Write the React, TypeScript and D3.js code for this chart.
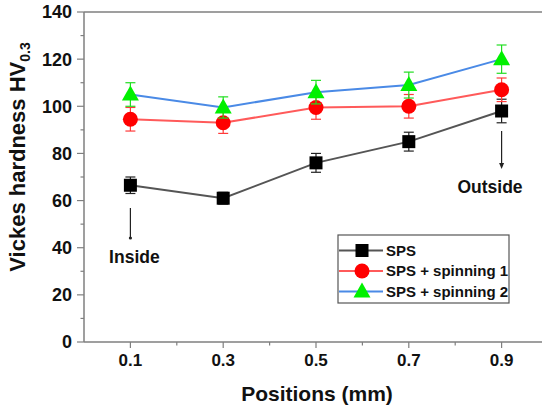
import React from 'react';
import * as d3 from 'd3';

const positions = [0.1, 0.3, 0.5, 0.7, 0.9];
const sps = [66.5, 61, 76, 85, 98];
const spsErr = [3.5, 2.5, 4, 4, 5];
const spin1 = [94.5, 93, 99.5, 100, 107];
const spin1Err = [5, 4.5, 5, 5, 5];
const spin2 = [105, 99.5, 106, 109, 120];
const spin2Err = [5, 4.5, 5, 5.5, 6];
const yTicks = [0, 20, 40, 60, 80, 100, 120, 140];
const yMinor = [10, 30, 50, 70, 90, 110, 130];
const xMinor = [0.2, 0.4, 0.6, 0.8];

const W = 542;
const H = 409;
const FONT = '"Liberation Sans", Arial, sans-serif';

const x = d3.scaleLinear().domain([0, 1]).range([84, 548]);
const y = d3.scaleLinear().domain([0, 140]).range([342, 12]);

const series = [
  { name: 'SPS', values: sps, err: spsErr, line: '#555555', fill: '#000000', bar: '#222222', shape: 'square' },
  { name: 'SPS + spinning 1', values: spin1, err: spin1Err, line: '#ff5a5a', fill: '#ff0000', bar: '#ff3a3a', shape: 'circle' },
  { name: 'SPS + spinning 2', values: spin2, err: spin2Err, line: '#4a8ae6', fill: '#00f000', bar: '#22dd22', shape: 'triangle' },
];

const Marker = ({ shape, cx, cy, fill }: any) => {
  if (shape === 'square') return <rect x={cx - 6.5} y={cy - 6.5} width={13} height={13} fill={fill} />;
  if (shape === 'circle') return <circle cx={cx} cy={cy} r={7.5} fill={fill} />;
  return <path d={`M${cx},${cy - 9}L${cx + 8.5},${cy + 6}L${cx - 8.5},${cy + 6}Z`} fill={fill} />;
};

export default function App() {
  const line = d3.line<number>().x((_, i) => x(positions[i])).y((d) => y(d));
  const axisColor = '#7f7f7f';

  return (
    <svg width={W} height={H} style={{ position: 'absolute', left: 0, top: 0, background: '#fff' }}>
      {/* axes */}
      <line x1={84} x2={84} y1={12} y2={342} stroke={axisColor} strokeWidth={1.5} />
      <line x1={84} x2={W} y1={12} y2={12} stroke={axisColor} strokeWidth={1.5} />
      <line x1={84} x2={W} y1={342} y2={342} stroke={axisColor} strokeWidth={1.5} />
      {yTicks.map((t) => (
        <g key={'yt' + t}>
          <line x1={77} x2={84} y1={y(t)} y2={y(t)} stroke={axisColor} strokeWidth={1.2} />
          <text x={72} y={y(t)} dy="0.36em" textAnchor="end" fontFamily={FONT} fontWeight="bold" fontSize={18} fill="#111">
            {t}
          </text>
        </g>
      ))}
      {yMinor.map((t) => (
        <line key={'ym' + t} x1={80.5} x2={84} y1={y(t)} y2={y(t)} stroke={axisColor} strokeWidth={1.2} />
      ))}
      {positions.map((p) => (
        <g key={'xt' + p}>
          <line x1={x(p)} x2={x(p)} y1={342} y2={348} stroke={axisColor} strokeWidth={1.2} />
          <text x={x(p)} y={366} textAnchor="middle" fontFamily={FONT} fontWeight="bold" fontSize={17} fill="#111">
            {d3.format('.1f')(p)}
          </text>
        </g>
      ))}
      {xMinor.map((p) => (
        <line key={'xm' + p} x1={x(p)} x2={x(p)} y1={342} y2={345.5} stroke={axisColor} strokeWidth={1.2} />
      ))}

      {/* axis titles */}
      <text x={317} y={401} textAnchor="middle" fontFamily={FONT} fontWeight="bold" fontSize={21} fill="#111">
        Positions (mm)
      </text>
      <text
        transform={`translate(25,157) rotate(-90)`}
        textAnchor="middle"
        fontFamily={FONT}
        fontWeight="bold"
        fontSize={22}
        fill="#111"
      >
        Vickes hardness HV<tspan fontSize={14} dy={5}>0.3</tspan>
      </text>

      {/* series */}
      {series.map((s) => (
        <g key={s.name}>
          <path d={line(s.values) || ''} fill="none" stroke={s.line} strokeWidth={2} />
          {s.values.map((v, i) => {
            const cx = x(positions[i]);
            const top = y(v + s.err[i]);
            const bot = y(v - s.err[i]);
            return (
              <g key={i} stroke={s.bar} strokeWidth={1.2}>
                <line x1={cx} x2={cx} y1={top} y2={bot} />
                <line x1={cx - 5} x2={cx + 5} y1={top} y2={top} />
                <line x1={cx - 5} x2={cx + 5} y1={bot} y2={bot} />
              </g>
            );
          })}
          {s.values.map((v, i) => (
            <Marker key={'m' + i} shape={s.shape} cx={x(positions[i])} cy={y(v)} fill={s.fill} />
          ))}
        </g>
      ))}

      {/* annotations */}
      <line x1={x(0.1)} x2={x(0.1)} y1={208} y2={238} stroke="#222" strokeWidth={1.2} />
      <circle cx={x(0.1)} cy={238} r={1.6} fill="#222" />
      <text x={x(0.1) + 4} y={263} textAnchor="middle" fontFamily={FONT} fontWeight="bold" fontSize={17.5} fill="#111">
        Inside
      </text>
      <line x1={x(0.9)} x2={x(0.9)} y1={131} y2={164} stroke="#222" strokeWidth={1.2} />
      <path d={`M${x(0.9) - 2.5},${163}L${x(0.9) + 2.5},${163}L${x(0.9)},${169}Z`} fill="#222" />
      <text x={490} y={193} textAnchor="middle" fontFamily={FONT} fontWeight="bold" fontSize={17.5} fill="#111">
        Outside
      </text>

      {/* legend */}
      <rect x={338} y={235} width={171} height={68} fill="#fff" stroke="#555" strokeWidth={1.2} />
      {series.map((s, i) => {
        const ly = 250.5 + i * 20.5;
        return (
          <g key={'lg' + s.name}>
            <line x1={339} x2={383} y1={ly} y2={ly} stroke={s.line} strokeWidth={2} />
            <Marker shape={s.shape} cx={362} cy={ly} fill={s.fill} />
            <text x={386} y={ly} dy="0.36em" fontFamily={FONT} fontWeight="bold" fontSize={15} fill="#111">
              {s.name}
            </text>
          </g>
        );
      })}
    </svg>
  );
}
